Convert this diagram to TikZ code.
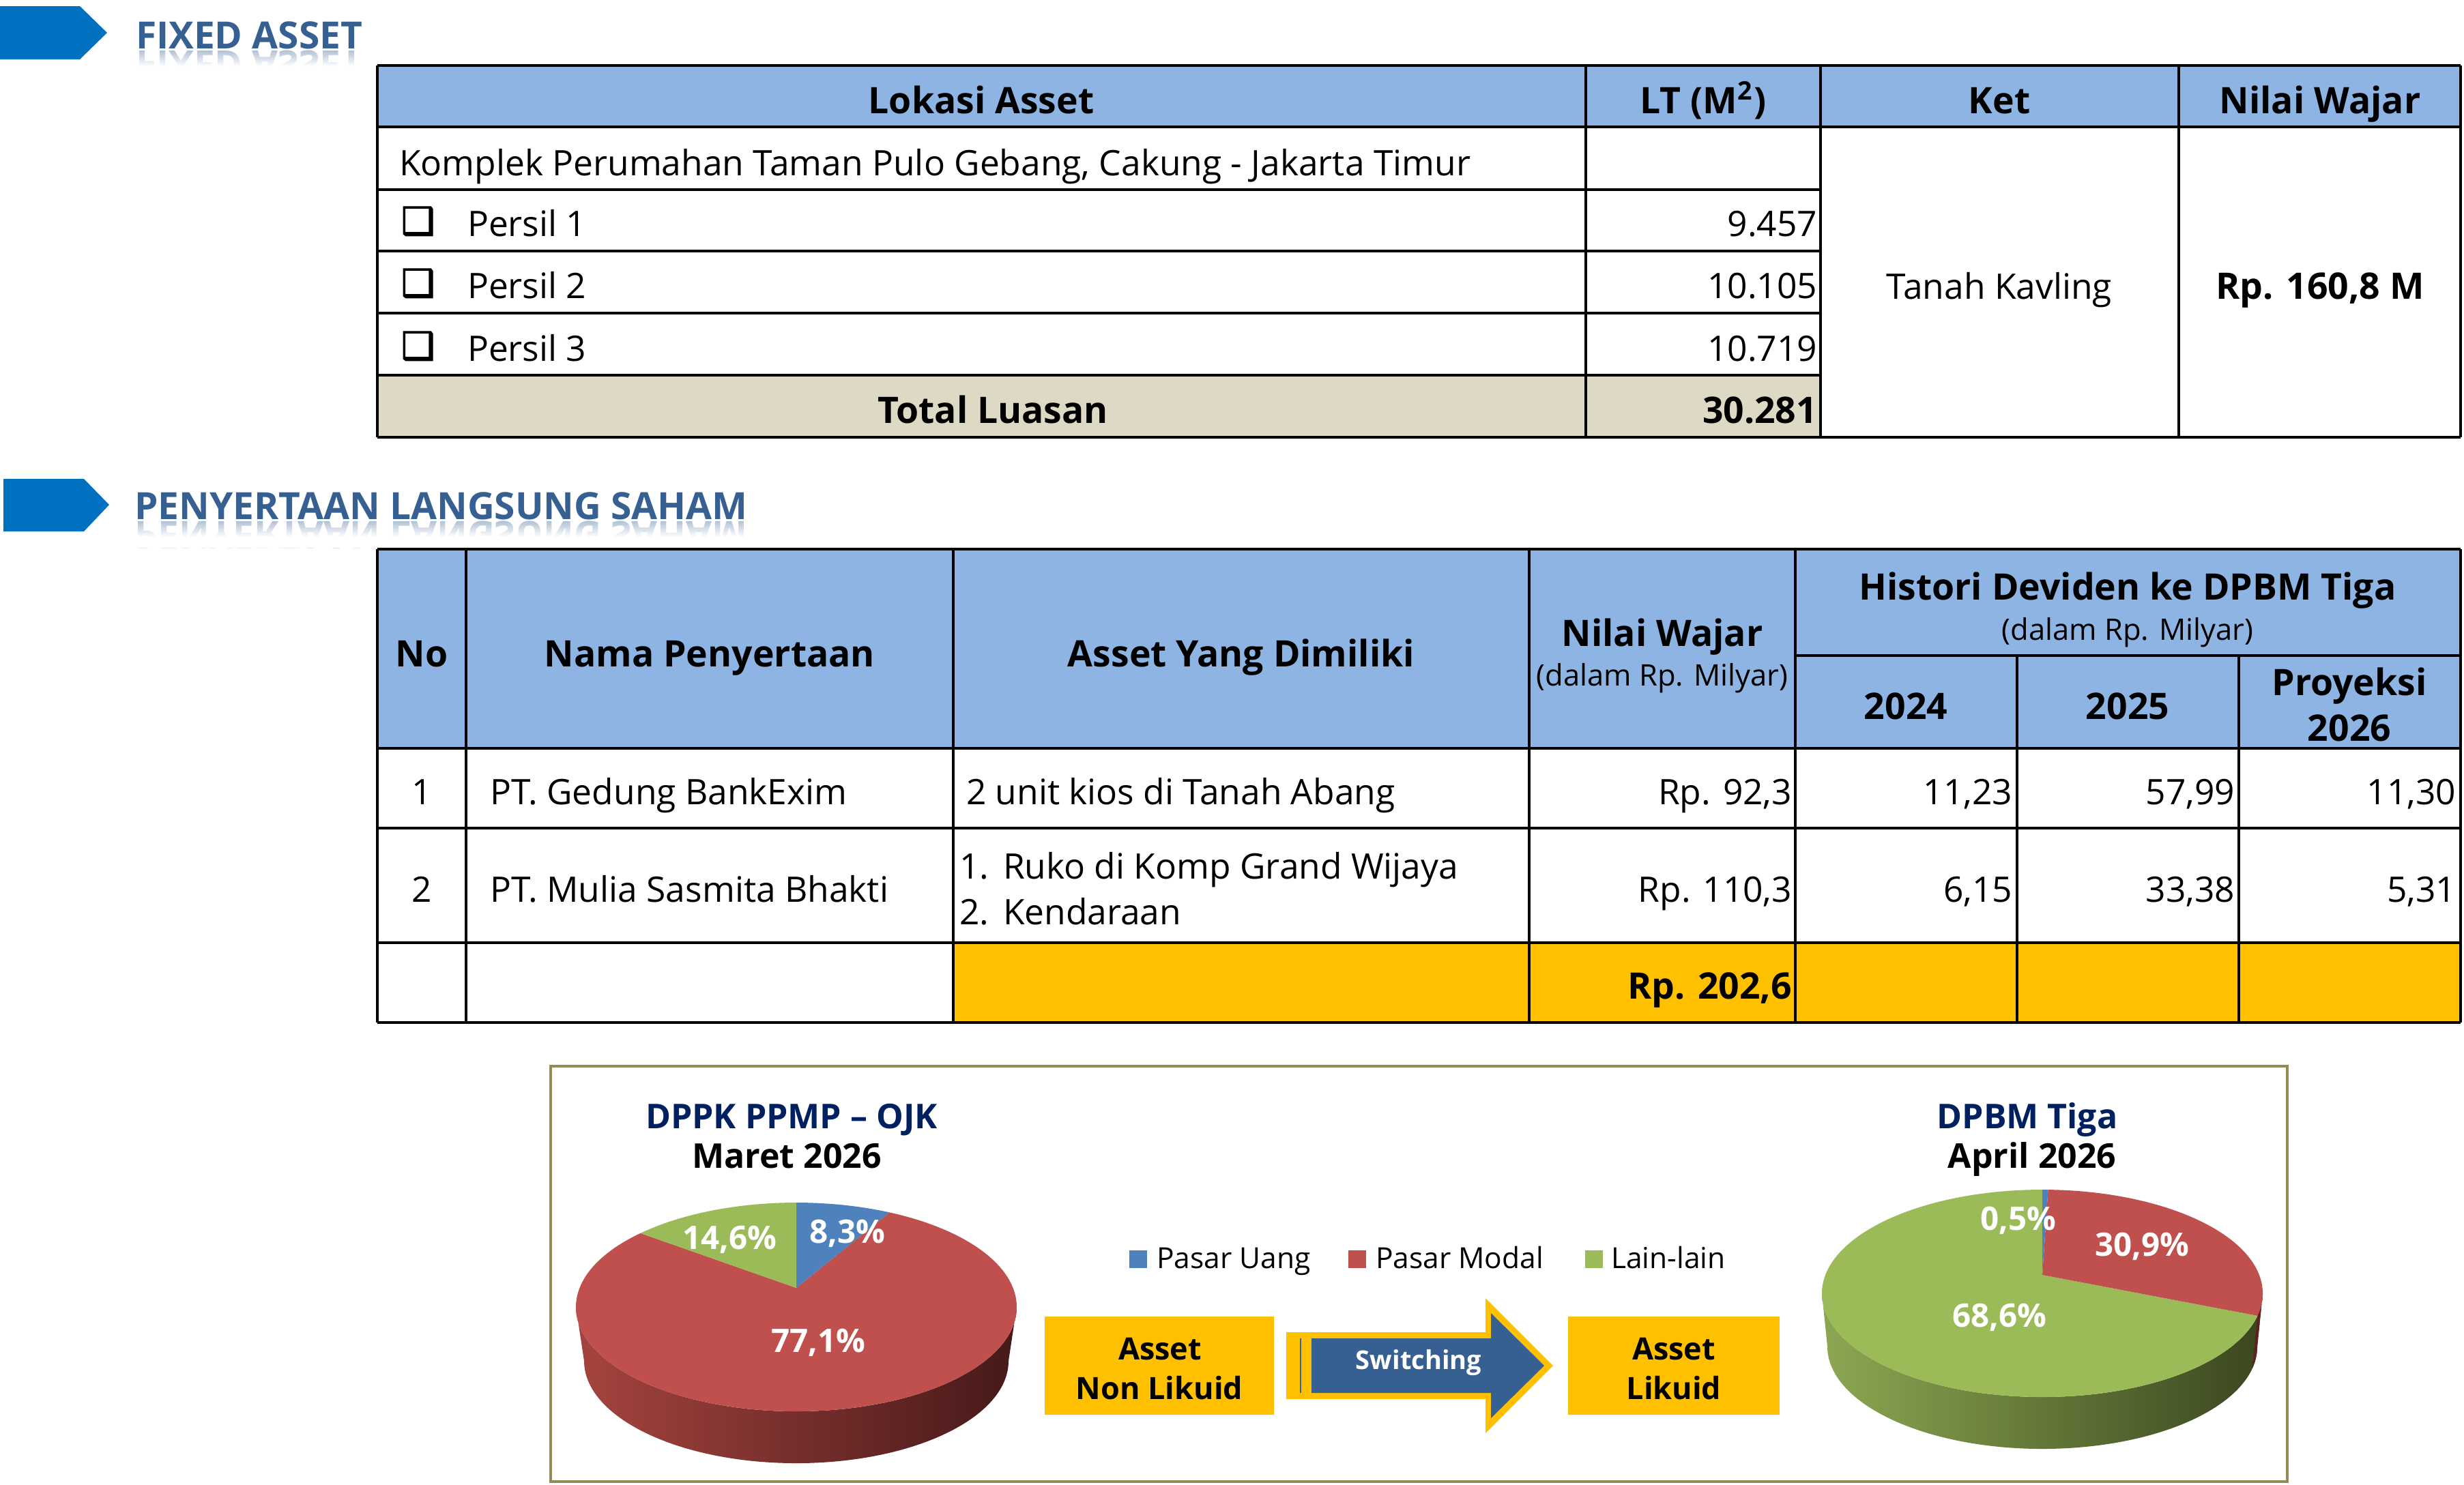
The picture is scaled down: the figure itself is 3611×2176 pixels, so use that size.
\documentclass[tikz,border=0pt]{standalone}
\usepackage{fontspec}
\setmainfont{Open Sans}
\newfontfamily\dejavu{DejaVu Sans}[FakeBold=2.5]
\usetikzlibrary{fadings,calc}
\tikzfading[name=fadeup, top color=transparent!100, bottom color=transparent!0]
\definecolor{hdr}{HTML}{8DB4E2}
\definecolor{tanrow}{HTML}{DDD9C4}
\definecolor{yel}{HTML}{FFC000}
\definecolor{chev}{HTML}{0070C0}
\definecolor{secblue}{HTML}{376092}
\definecolor{navy}{HTML}{002060}
\definecolor{pblue}{HTML}{4F81BD}
\definecolor{pred}{HTML}{C0504D}
\definecolor{pgreen}{HTML}{9BBB59}
\definecolor{rside1}{HTML}{A6443F}
\definecolor{rside2}{HTML}{461919}
\definecolor{gside1}{HTML}{8CA852}
\definecolor{gside2}{HTML}{3A461F}
\definecolor{rsliver}{HTML}{5E2120}
\definecolor{olivebox}{HTML}{948A54}
\definecolor{arrblue}{HTML}{376092}
\begin{document}
\begin{tikzpicture}[x=0.2pt,y=0.2pt,
 rg/.style={inner sep=0pt, outer sep=0pt, font=\fontsize{10.3}{12}\selectfont},
 bd/.style={inner sep=0pt, outer sep=0pt, font=\fontsize{10.7}{12}\selectfont\bfseries},
 sm/.style={inner sep=0pt, outer sep=0pt, font=\fontsize{8.7}{10}\selectfont},
 sect/.style={inner sep=0pt, outer sep=0pt, font=\fontsize{11}{13}\selectfont\bfseries, text=secblue},
 ptitle/.style={inner sep=0pt, outer sep=0pt, font=\fontsize{10}{12}\selectfont\bfseries, anchor=base},
 plab/.style={inner sep=0pt, outer sep=0pt, font=\fontsize{9.5}{11}\selectfont\bfseries, text=white},
 leg/.style={inner sep=0pt, outer sep=0pt, font=\fontsize{8.5}{10}\selectfont, anchor=base west},
 boxt/.style={inner sep=0pt, outer sep=0pt, font=\fontsize{9}{11}\selectfont\bfseries, anchor=base},
 chk/.style={inner sep=0pt, outer sep=0pt, font=\dejavu\fontsize{11}{12}\selectfont, anchor=base west},
 grid/.style={line width=0.9pt, black},
]
\useasboundingbox (0,0) rectangle (3611,-2176);

% ---------- section headers ----------
\fill[chev] (0,-9) -- (117,-9) -- (157,-48) -- (117,-87) -- (0,-87) -- cycle;
\fill[chev] (5,-702) -- (123,-702) -- (160,-740) -- (123,-779) -- (5,-779) -- cycle;

\node[sect, anchor=base west, yscale=-1, opacity=0.4] (t1r) at (199,-74) {FIXED ASSET};
\fill[white, path fading=fadeup] (194,-73) rectangle (540,-97);
\fill[white] (194,-97) rectangle (540,-120);
\node[sect, anchor=base west] (t1) at (199,-71) {FIXED ASSET};

\node[sect, anchor=base west, yscale=-1, opacity=0.4] (t2r) at (197,-764) {PENYERTAAN LANGSUNG SAHAM};
\fill[white, path fading=fadeup] (192,-763) rectangle (1100,-787);
\fill[white] (192,-787) rectangle (1100,-803);
\node[sect, anchor=base west] (t2) at (197,-761) {PENYERTAAN LANGSUNG SAHAM};

% ---------- table 1 ----------
\fill[hdr] (553,-96) rectangle (3606,-186);
\fill[tanrow] (553,-550) rectangle (2668,-641);
\foreach \yy in {96,186,641} \draw[grid] (553,-\yy) -- (3606,-\yy);
\foreach \yy in {278,368,459,550} \draw[grid] (553,-\yy) -- (2668,-\yy);
\foreach \xx in {553,2324,2668,3193,3606} \draw[grid] (\xx,-96) -- (\xx,-641);

\node[bd, anchor=base] (h1) at (1438,-166) {Lokasi Asset};
\node[bd, anchor=base] (h2) at (2496,-166) {LT (M\textsuperscript{2})};
\node[bd, anchor=base] (h3) at (2930,-166) {Ket};
\node[bd, anchor=base] (h4) at (3400,-166) {Nilai Wajar};

\node[rg, anchor=base west] (r1) at (585,-257) {Komplek Perumahan Taman Pulo Gebang, Cakung - Jakarta Timur};
\node[chk] (c1) at (588,-343) {❑};
\node[chk] (c2) at (588,-434) {❑};
\node[chk] (c3) at (588,-526) {❑};
\node[rg, anchor=base west] (p1) at (685,-346) {Persil 1};
\node[rg, anchor=base west] (p2) at (685,-437) {Persil 2};
\node[rg, anchor=base west] (p3) at (685,-529) {Persil 3};
\node[rg, anchor=base east] (v1) at (2663,-346) {9.457};
\node[rg, anchor=base east] (v2) at (2663,-437) {10.105};
\node[rg, anchor=base east] (v3) at (2663,-529) {10.719};
\node[bd, anchor=base] (tl) at (1455,-620) {Total Luasan};
\node[bd, anchor=base east] (tv) at (2663,-620) {30.281};
\node[rg, anchor=base] (ket) at (2930,-438) {Tanah Kavling};
\node[bd, anchor=base] (nw) at (3400,-438) {Rp. 160,8 M};

% ---------- table 2 ----------
\fill[hdr] (553,-805) rectangle (3606,-1097);
\fill[yel] (1397,-1382) rectangle (3606,-1499);
\foreach \yy in {805,1097,1214,1382,1499} \draw[grid] (553,-\yy) -- (3606,-\yy);
\draw[grid] (2631,-961) -- (3606,-961);
\foreach \xx in {553,683,1397,2241,2631,3606} \draw[grid] (\xx,-805) -- (\xx,-1499);
\foreach \xx in {2956,3281} \draw[grid] (\xx,-961) -- (\xx,-1499);

\node[bd, anchor=base] (k1) at (618,-977) {No};
\node[bd, anchor=base] (k2) at (1040,-977) {Nama Penyertaan};
\node[bd, anchor=base] (k3) at (1819,-977) {Asset Yang Dimiliki};
\node[bd, anchor=base] (k4) at (2436,-947) {Nilai Wajar};
\node[sm, anchor=base] (k4s) at (2436,-1005) {(dalam Rp. Milyar)};
\node[bd, anchor=base] (k5) at (3118,-879) {Histori Deviden ke DPBM Tiga};
\node[sm, anchor=base] (k5s) at (3118,-938) {(dalam Rp. Milyar)};
\node[bd, anchor=base] (y1) at (2793,-1054) {2024};
\node[bd, anchor=base] (y2) at (3118,-1054) {2025};
\node[bd, anchor=base] (y3a) at (3443,-1019) {Proyeksi};
\node[bd, anchor=base] (y3b) at (3443,-1086) {2026};

\node[rg, anchor=base] (n1) at (618,-1179) {1};
\node[rg, anchor=base west] (nm1) at (718,-1179) {PT. Gedung BankExim};
\node[rg, anchor=base west] (as1) at (1416,-1179) {2 unit kios di Tanah Abang};
\node[rg, anchor=base east] (w1) at (2626,-1179) {Rp. 92,3};
\node[rg, anchor=base east] (a1) at (2949,-1179) {11,23};
\node[rg, anchor=base east] (b1) at (3275,-1179) {57,99};
\node[rg, anchor=base east] (c1v) at (3599,-1179) {11,30};

\node[rg, anchor=base] (n2) at (618,-1322) {2};
\node[rg, anchor=base west] (nm2) at (718,-1322) {PT. Mulia Sasmita Bhakti};
\node[rg, anchor=base west] (as2n) at (1406,-1288) {1.};
\node[rg, anchor=base west] (as2) at (1470,-1288) {Ruko di Komp Grand Wijaya};
\node[rg, anchor=base west] (as3n) at (1406,-1355) {2.};
\node[rg, anchor=base west] (as3) at (1470,-1355) {Kendaraan};
\node[rg, anchor=base east] (w2) at (2626,-1322) {Rp. 110,3};
\node[rg, anchor=base east] (a2) at (2949,-1322) {6,15};
\node[rg, anchor=base east] (b2) at (3275,-1322) {33,38};
\node[rg, anchor=base east] (c2v) at (3599,-1322) {5,31};
\node[bd, anchor=base east] (wt) at (2626,-1464) {Rp. 202,6};

% ---------- bottom panel ----------
\draw[olivebox, line width=0.8pt] (807,-1563) rectangle (3352,-2172);

% left pie
\begin{scope}[shift={(1167,-1916)}]
 \shade[left color=rside1, right color=rside2]
   (-323,0) arc[start angle=180, end angle=360, x radius=323, y radius=153]
   -- (311,-79) arc[start angle=0, end angle=-180, x radius=311, y radius=150] -- cycle;
 \fill[pred] (0,28) -- (135:323 and 153) arc[start angle=135, end angle=425, x radius=323, y radius=153] -- cycle;
 \fill[pblue] (0,28) -- (65:323 and 153) arc[start angle=65, end angle=90, x radius=323, y radius=153] -- cycle;
 \fill[pgreen] (0,28) -- (90:323 and 153) arc[start angle=90, end angle=135, x radius=323, y radius=153] -- cycle;
\end{scope}
\node[plab] (l1) at (1242,-1808) {8,3\%};
\node[plab] (l2) at (1069,-1817) {14,6\%};
\node[plab] (l3) at (1199,-1968) {77,1\%};
\node[ptitle, text=navy] (lt1) at (1160,-1654) {DPPK PPMP – OJK};
\node[ptitle] (lt2) at (1153,-1712) {Maret 2026};

% right pie
\begin{scope}[shift={(2993,-1896)}]
 \shade[left color=gside1, right color=gside2]
   (-323,0) arc[start angle=180, end angle=360, x radius=323, y radius=152]
   -- (315,-78) arc[start angle=0, end angle=-180, x radius=315, y radius=150] -- cycle;
 \fill[rsliver] (0:323 and 152) arc[start angle=0, end angle=-12.5, x radius=323, y radius=152]
   -- ($(0,-78)+(-12.5:315 and 150)$) arc[start angle=-12.5, end angle=0, x radius=315, y radius=150] -- cycle;
 \fill[pgreen] (0,27) -- (90:323 and 152) arc[start angle=90, end angle=347.5, x radius=323, y radius=152] -- cycle;
 \fill[pred] (0,27) -- (-12.5:323 and 152) arc[start angle=-12.5, end angle=88.5, x radius=323, y radius=152] -- cycle;
 \fill[pblue] (0,27) -- (88.5:323 and 152) arc[start angle=88.5, end angle=90, x radius=323, y radius=152] -- cycle;
\end{scope}
\node[plab] (m1) at (2958,-1789) {0,5\%};
\node[plab] (m2) at (3139,-1827) {30,9\%};
\node[plab] (m3) at (2930,-1931) {68,6\%};
\node[ptitle, text=navy] (rt1) at (2971,-1654) {DPBM Tiga};
\node[ptitle] (rt2) at (2978,-1712) {April 2026};

% legend
\fill[pblue] (1655,-1833) rectangle (1681,-1859);
\node[leg] (g1) at (1695,-1859) {Pasar Uang};
\fill[pred] (1976,-1833) rectangle (2002,-1859);
\node[leg] (g2) at (2016,-1859) {Pasar Modal};
\fill[pgreen] (2323,-1833) rectangle (2349,-1859);
\node[leg] (g3) at (2361,-1859) {Lain-lain};

% boxes
\fill[yel] (1531,-1930) rectangle (1867,-2074);
\node[boxt] (b1a) at (1700,-1993) {Asset};
\node[boxt] (b1b) at (1699,-2051) {Non Likuid};
\fill[yel] (2298,-1930) rectangle (2608,-2074);
\node[boxt] (b2a) at (2453,-1993) {Asset};
\node[boxt] (b2b) at (2453,-2051) {Likuid};

% switching arrow
\fill[yel] (1885,-1953) -- (2177,-1953) -- (2177,-1903) -- (2276,-2002) -- (2177,-2101) -- (2177,-2051) -- (1885,-2051) -- cycle;
\fill[arrblue] (1922,-1962) -- (2185,-1962) -- (2185,-1925) -- (2263,-2002) -- (2185,-2079) -- (2185,-2042) -- (1922,-2042) -- cycle;
\draw[arrblue, line width=0.4pt] (1906,-1962) -- (1906,-2042);
\node[inner sep=0pt, font=\fontsize{7.6}{9}\selectfont\bfseries, text=white, anchor=base] (sw) at (2079,-2007) {Switching};
\end{tikzpicture}
\end{document}
